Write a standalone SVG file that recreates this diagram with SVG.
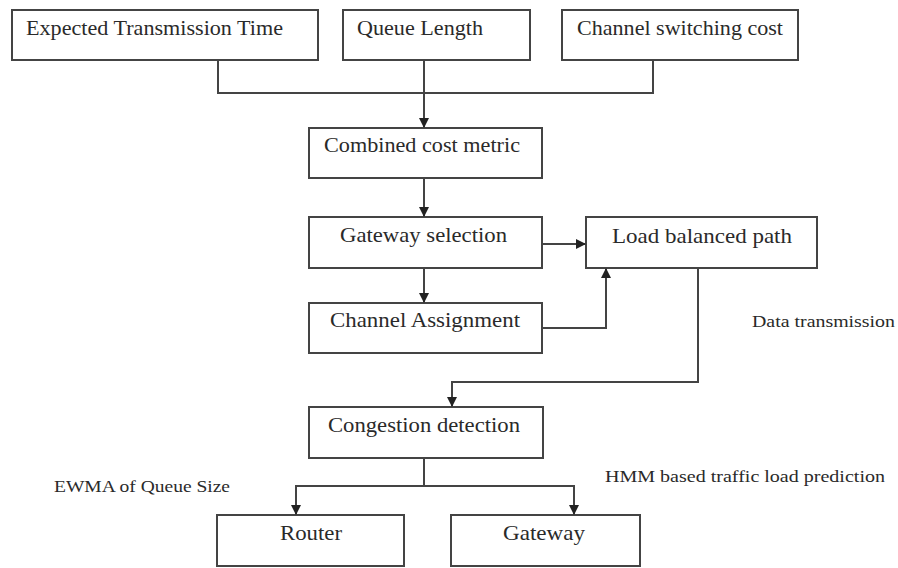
<svg xmlns="http://www.w3.org/2000/svg" width="898" height="568" viewBox="0 0 898 568">
<style>
.box{fill:#fff;stroke:#444;stroke-width:2}
.t{font-family:"Liberation Serif","Times New Roman",serif;font-size:21px;fill:#2a2a2a}
.l{font-family:"Liberation Serif","Times New Roman",serif;font-size:17px;fill:#2a2a2a}
.c{fill:none;stroke:#444;stroke-width:2}
</style>
<defs>
<marker id="ah" markerUnits="userSpaceOnUse" markerWidth="10" markerHeight="10" refX="10" refY="5" orient="auto">
<path d="M0,0 L10,5 L0,10 z" fill="#222"/>
</marker>
</defs>
<rect width="898" height="568" fill="#fff"/>
<g id="n-ett"><rect class="box" x="12" y="10" width="306" height="50"/><text class="t" x="26" y="35" textLength="257" lengthAdjust="spacingAndGlyphs">Expected Transmission Time</text></g>
<g id="n-ql"><rect class="box" x="343" y="10" width="187" height="50"/><text class="t" x="357" y="35" textLength="126" lengthAdjust="spacingAndGlyphs">Queue Length</text></g>
<g id="n-csc"><rect class="box" x="562" y="10" width="236" height="50"/><text class="t" x="577" y="35" textLength="206" lengthAdjust="spacingAndGlyphs">Channel switching cost</text></g>
<g id="n-ccm"><rect class="box" x="309" y="128" width="233" height="50"/><text class="t" x="324" y="152" textLength="196" lengthAdjust="spacingAndGlyphs">Combined cost metric</text></g>
<g id="n-gs"><rect class="box" x="309" y="217" width="233" height="51"/><text class="t" x="340" y="242" textLength="167" lengthAdjust="spacingAndGlyphs">Gateway selection</text></g>
<g id="n-ca"><rect class="box" x="309" y="303" width="233" height="50"/><text class="t" x="330" y="327" textLength="190" lengthAdjust="spacingAndGlyphs">Channel Assignment</text></g>
<g id="n-lbp"><rect class="box" x="586" y="217" width="231" height="51"/><text class="t" x="612" y="243" textLength="180" lengthAdjust="spacingAndGlyphs">Load balanced path</text></g>
<g id="n-cd"><rect class="box" x="309" y="407" width="234" height="51"/><text class="t" x="328" y="432" textLength="192" lengthAdjust="spacingAndGlyphs">Congestion detection</text></g>
<g id="n-router"><rect class="box" x="217" y="515" width="187" height="51"/><text class="t" x="280" y="540" textLength="62" lengthAdjust="spacingAndGlyphs">Router</text></g>
<g id="n-gw"><rect class="box" x="451" y="515" width="189" height="51"/><text class="t" x="503" y="540" textLength="82" lengthAdjust="spacingAndGlyphs">Gateway</text></g>
<g id="labels">
<text class="l" x="752" y="327" textLength="143" lengthAdjust="spacingAndGlyphs">Data transmission</text>
<text class="l" x="54" y="492" textLength="176" lengthAdjust="spacingAndGlyphs">EWMA of Queue Size</text>
<text class="l" x="605" y="482" textLength="280" lengthAdjust="spacingAndGlyphs">HMM based traffic load prediction</text>
</g>
<g id="connectors">
<path class="c" d="M218,60 V93 H653 V60"/>
<path class="c" d="M424,60 V128" marker-end="url(#ah)"/>
<path class="c" d="M424,178 V217" marker-end="url(#ah)"/>
<path class="c" d="M424,268 V303" marker-end="url(#ah)"/>
<path class="c" d="M542,244 H586" marker-end="url(#ah)"/>
<path class="c" d="M542,328 H606 V268" marker-end="url(#ah)"/>
<path class="c" d="M698,268 V382 H452 V407" marker-end="url(#ah)"/>
<path class="c" d="M424,458 V486 H296 V515" marker-end="url(#ah)"/>
<path class="c" d="M424,486 H574 V515" marker-end="url(#ah)"/>
</g>
</svg>
